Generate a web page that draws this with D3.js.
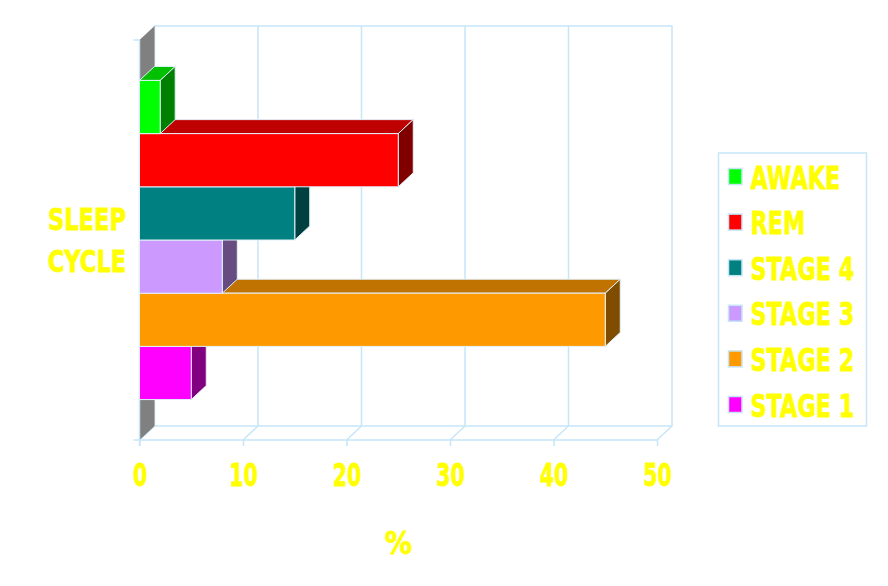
<!DOCTYPE html>
<html>
<head>
<meta charset="utf-8">
<script src="https://cdn.jsdelivr.net/npm/d3@7/dist/d3.min.js"></script>
<style>
  html, body { margin: 0; padding: 0; background: #ffffff; }
  svg { display: block; }
  text { font-family: "DejaVu Sans", Verdana, sans-serif; font-weight: bold; fill: #ffff00; stroke: #ffff00; stroke-width: 0.8px; }
</style>
</head>
<body>
<svg id="chart" width="888" height="586"></svg>
<script>
// ---- data ----
const categories = ["SLEEP CYCLE"];
const seriesNames = ["AWAKE", "REM", "STAGE 4", "STAGE 3", "STAGE 2", "STAGE 1"];
const seriesValues = [2, 25, 15, 8, 45, 5];
const xTicks = [0, 10, 20, 30, 40, 50];
const xTitle = "%";

// ---- styles ----
const frontColors = ["#00ff00", "#ff0000", "#008080", "#cc99ff", "#ff9900", "#ff00ff"];
const topColors   = ["#00c000", "#bf0000", "#006060", "#9973bf", "#c07300", "#bf00bf"];
const sideColors  = ["#008000", "#800000", "#004040", "#664c80", "#804c00", "#800080"];
const lineColor = "#c6e6f8";
const edgeColor = "#e2f2fb";

const svg = d3.select("#chart");

// geometry
const x0 = 139.5, x1 = 657;
const yTop = 40, yBot = 440;
const DX = 15, DY = 14;

const x = d3.scaleLinear().domain([0, 50]).range([x0, x1]);
const y = d3.scaleBand().domain(seriesNames).range([yTop, yBot]).paddingInner(0).paddingOuter(0.76);

const g = svg.append("g");

// back wall
g.append("rect")
  .attr("x", x0 + DX).attr("y", yTop - DY)
  .attr("width", x1 - x0).attr("height", yBot - yTop)
  .attr("fill", "#ffffff").attr("stroke", lineColor).attr("stroke-width", 1.5);

// back wall gridlines
g.selectAll("line.grid").data(xTicks.slice(1, -1)).enter().append("line")
  .attr("class", "grid")
  .attr("x1", d => x(d) + DX).attr("x2", d => x(d) + DX)
  .attr("y1", yTop - DY).attr("y2", yBot - DY)
  .attr("stroke", lineColor).attr("stroke-width", 1.5);

// floor diagonals
g.selectAll("line.diag").data(xTicks).enter().append("line")
  .attr("x1", d => x(d)).attr("y1", yBot)
  .attr("x2", d => x(d) + DX).attr("y2", yBot - DY)
  .attr("stroke", lineColor).attr("stroke-width", 1.5);

// left wall (gray depth face)
g.append("path")
  .attr("d", `M${x0},${yTop} L${x0 + DX},${yTop - DY} L${x0 + DX},${yBot - DY} L${x0},${yBot} Z`)
  .attr("fill", "#808080");

// front axis line
g.append("line")
  .attr("x1", x0 - 6).attr("x2", x1).attr("y1", yBot).attr("y2", yBot)
  .attr("stroke", lineColor).attr("stroke-width", 1.5);
// vertical axis line and top tick
g.append("line")
  .attr("x1", x0).attr("x2", x0).attr("y1", yTop).attr("y2", yBot + 6)
  .attr("stroke", lineColor).attr("stroke-width", 1.5);
g.append("line")
  .attr("x1", x0 - 6).attr("x2", x0).attr("y1", yTop).attr("y2", yTop)
  .attr("stroke", lineColor).attr("stroke-width", 1.5);

// bottom axis (ticks + labels)
const axis = d3.axisBottom(x).tickValues(xTicks).tickSize(6).tickPadding(16).tickFormat(d3.format("d"));
const ax = g.append("g").attr("transform", `translate(0,${yBot})`).call(axis);
ax.select(".domain").remove();
ax.selectAll(".tick line").attr("stroke", lineColor).attr("stroke-width", 1.5);
ax.selectAll(".tick text")
  .attr("fill", "#ffff00").attr("font-size", 32).attr("font-family", "DejaVu Sans")
  .attr("font-weight", "bold")
  .attr("dy", null).attr("y", null)
  .attr("transform", "translate(0,46) scale(0.64,1)");

// bars: draw bottom to top
const bars = g.append("g");
const order = d3.range(seriesNames.length).reverse();
order.forEach(i => {
  const name = seriesNames[i];
  const v = seriesValues[i];
  const ya = y(name), yb = y(name) + y.bandwidth();
  const xa = x(0), xb = x(v);
  const bg = bars.append("g");
  // top face
  bg.append("path")
    .attr("d", `M${xa},${ya} L${xb},${ya} L${xb + DX},${ya - DY} L${xa + DX},${ya - DY} Z`)
    .attr("fill", topColors[i]).attr("stroke", edgeColor).attr("stroke-width", 1);
  // side face
  bg.append("path")
    .attr("d", `M${xb},${ya} L${xb + DX},${ya - DY} L${xb + DX},${yb - DY} L${xb},${yb} Z`)
    .attr("fill", sideColors[i]).attr("stroke", edgeColor).attr("stroke-width", 1);
  // front face
  bg.append("rect")
    .attr("x", xa).attr("y", ya).attr("width", xb - xa).attr("height", yb - ya)
    .attr("fill", frontColors[i]).attr("stroke", edgeColor).attr("stroke-width", 1);
});

// helper for horizontally condensed text
function ctext(parent, tx, ty, str, size, sx, anchor) {
  return parent.append("text")
    .attr("transform", `translate(${tx},${ty}) scale(${sx},1)`)
    .attr("text-anchor", anchor || "start")
    .attr("font-size", size)
    .text(str);
}

// category label (two lines)
const catWords = categories[0].split(" ");
const midY = (yTop + yBot) / 2;
ctext(g, 87, midY - 10.5, catWords[0], 31, 0.73, "middle");
ctext(g, 87, midY + 32, catWords[1], 31, 0.73, "middle");

// x title
ctext(g, (x0 + x1) / 2, 554, xTitle, 32, 0.85, "middle");

// legend
const lg = svg.append("g");
lg.append("rect")
  .attr("x", 718.5).attr("y", 153).attr("width", 148).attr("height", 273)
  .attr("fill", "#ffffff").attr("stroke", lineColor).attr("stroke-width", 1.5);
seriesNames.forEach((name, i) => {
  const cy = 176.5 + i * 45.6;
  lg.append("rect")
    .attr("x", 728.5).attr("y", cy - 8).attr("width", 13.5).attr("height", 16)
    .attr("fill", frontColors[i]).attr("stroke", lineColor).attr("stroke-width", 1.5);
  ctext(lg, 750.5, cy + 12, name, 31.5, 0.71, "start");
});
</script>
</body>
</html>
